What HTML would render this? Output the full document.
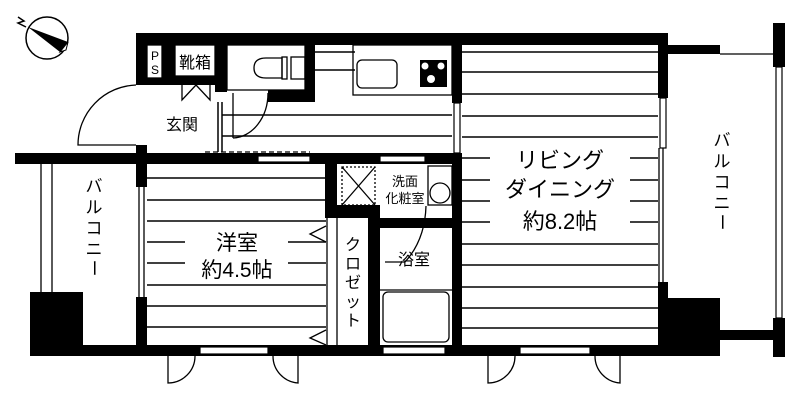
<!DOCTYPE html>
<html><head><meta charset="utf-8"><style>
html,body{margin:0;padding:0;background:#fff;}
svg{display:block;}
text{font-family:"Liberation Sans","Noto Sans CJK JP",sans-serif;fill:#000;}
</style></head><body>
<svg width="800" height="403" viewBox="0 0 800 403" xmlns="http://www.w3.org/2000/svg">
<rect width="800" height="403" fill="#fff"/>
<!-- compass -->
<circle cx="47" cy="38" r="21" fill="none" stroke="#000" stroke-width="1.5"/>
<polygon points="28,27 68,42 60,52" fill="#000"/>
<polygon points="60,52 68,42 66,50" fill="#fff" stroke="#000" stroke-width="1"/>
<path d="M18,17 L24,21 L18,23 L26,27" fill="none" stroke="#000" stroke-width="1.5"/>

<g stroke="#000" stroke-width="1.5">
<line x1="462" y1="52" x2="658" y2="52"/><line x1="462" y1="72" x2="658" y2="72"/>
<line x1="462" y1="94" x2="658" y2="94"/><line x1="462" y1="116" x2="658" y2="116"/>
<line x1="462" y1="137" x2="658" y2="137"/>
<line x1="462" y1="158" x2="490" y2="158"/><line x1="630" y1="158" x2="658" y2="158"/>
<line x1="462" y1="180" x2="490" y2="180"/><line x1="630" y1="180" x2="658" y2="180"/>
<line x1="462" y1="201" x2="490" y2="201"/><line x1="630" y1="201" x2="658" y2="201"/>
<line x1="462" y1="222" x2="490" y2="222"/><line x1="630" y1="222" x2="658" y2="222"/>
<line x1="462" y1="244" x2="658" y2="244"/><line x1="462" y1="265" x2="658" y2="265"/>
<line x1="462" y1="287" x2="658" y2="287"/><line x1="462" y1="308" x2="658" y2="308"/>
<line x1="462" y1="328" x2="658" y2="328"/>
<line x1="147" y1="178" x2="326" y2="178"/><line x1="147" y1="200" x2="326" y2="200"/>
<line x1="147" y1="221" x2="326" y2="221"/>
<line x1="147" y1="242" x2="185" y2="242"/><line x1="288" y1="242" x2="326" y2="242"/>
<line x1="147" y1="263" x2="185" y2="263"/><line x1="288" y1="263" x2="326" y2="263"/>
<line x1="147" y1="285" x2="326" y2="285"/><line x1="147" y1="306" x2="326" y2="306"/>
<line x1="147" y1="327" x2="326" y2="327"/>
<line x1="315" y1="52" x2="355" y2="52"/><line x1="315" y1="70" x2="355" y2="70"/>
<line x1="222" y1="115" x2="452" y2="115"/><line x1="222" y1="136" x2="452" y2="136"/>
<line x1="222" y1="102" x2="222" y2="152"/><line x1="218" y1="102" x2="218" y2="152"/>
</g>

<g fill="#000">
<rect x="136" y="33" width="532" height="12"/>
<rect x="668" y="45" width="52" height="9"/>
<rect x="136" y="33" width="11" height="52"/>
<rect x="136" y="145" width="11" height="42"/>
<rect x="136" y="297" width="11" height="58"/>
<rect x="162" y="45" width="13" height="40"/>
<rect x="147" y="78" width="15" height="7"/>
<rect x="175" y="76" width="40" height="9"/>
<rect x="215" y="45" width="12" height="47"/>
<rect x="305" y="45" width="10" height="57"/>
<rect x="268" y="90" width="47" height="12"/>
<rect x="15" y="153" width="445" height="11"/>
<rect x="452" y="33" width="10" height="70"/>
<rect x="452" y="153" width="10" height="202"/>
<rect x="658" y="33" width="10" height="65"/>
<rect x="658" y="282" width="10" height="74"/>
<rect x="668" y="298" width="52" height="58"/>
<rect x="720" y="330" width="53" height="10"/>
<rect x="773" y="23" width="12" height="44"/>
<rect x="773" y="318" width="12" height="39"/>
<rect x="30" y="345" width="690" height="11"/>
<rect x="30" y="292" width="53" height="60"/>
<rect x="325" y="160" width="12" height="58"/>
<rect x="337" y="205" width="43" height="13"/>
<rect x="368" y="205" width="12" height="145"/>
<rect x="380" y="218" width="72" height="10"/>
<rect x="420" y="60" width="27" height="27"/>
</g>

<g fill="#fff" stroke="#000" stroke-width="1.2">
<rect x="258" y="156" width="52" height="6"/>
<rect x="380" y="156" width="45" height="6"/>
<rect x="454" y="103" width="6" height="50"/>
<rect x="660" y="98" width="6" height="50"/>
<rect x="200" y="347" width="68" height="7"/>
<rect x="520" y="347" width="70" height="7"/>
<rect x="383" y="347" width="62" height="7"/>
<rect x="776" y="67" width="6" height="251"/>
</g>
<g stroke="#000" stroke-width="1.3" fill="none">
<line x1="659" y1="148" x2="659" y2="282"/><line x1="663" y1="148" x2="663" y2="282"/>
<line x1="139" y1="187" x2="139" y2="297"/><line x1="144" y1="187" x2="144" y2="297"/>
<line x1="41" y1="164" x2="41" y2="292"/><line x1="52" y1="164" x2="52" y2="292"/>
<line x1="720" y1="54" x2="773" y2="54"/>
<line x1="327" y1="218" x2="327" y2="345"/><line x1="337" y1="218" x2="337" y2="345"/>
<polyline points="326,226 310,234 326,242"/>
<polyline points="326,330 310,338 326,345"/>
<rect x="147" y="45" width="15" height="33"/>
<rect x="175" y="45" width="40" height="31"/>
<polyline points="182,85 182,100 196,85 210,100 210,85"/>
<rect x="227" y="45" width="78" height="45"/>
<path d="M282,58 L266,58 Q254,58 254,68 Q254,78 266,78 L282,78 Z"/>
<rect x="282" y="57" width="5" height="22"/>
<rect x="291" y="57" width="14" height="22"/>
<rect x="353" y="45" width="99" height="50"/>
<rect x="357" y="60" width="40" height="28" rx="5"/>
<path d="M136,85 A60,60 0 0 0 78,145 L136,145"/>
<line x1="233" y1="93" x2="233" y2="138"/>
<path d="M268,93 A36,45 0 0 1 233,138"/>
<line x1="205" y1="152" x2="310" y2="152" stroke-dasharray="5,3"/>
<rect x="342" y="167" width="33" height="38" stroke-dasharray="2,2"/>
<line x1="342" y1="167" x2="375" y2="205"/><line x1="375" y1="167" x2="342" y2="205"/>
<rect x="428" y="166" width="24" height="39"/>
<circle cx="440" cy="193" r="10"/>
<path d="M426,206 Q425,240 405,262 L385,262"/>
<rect x="383" y="292" width="66" height="50" rx="5"/>
<line x1="380" y1="290" x2="452" y2="290"/>
<path d="M168,356 L168,383 A27,27 0 0 0 195,356"/>
<path d="M298,356 L298,383 A27,27 0 0 1 273,356"/>
<path d="M488,356 L488,383 A27,27 0 0 0 515,356"/>
<path d="M620,356 L620,383 A27,27 0 0 1 595,356"/>
</g>
<g fill="#fff">
<circle cx="425" cy="66" r="3.5"/><circle cx="441" cy="66" r="3.5"/><circle cx="431" cy="79" r="4"/>
</g>

<text x="155" y="60" font-size="12" text-anchor="middle">P</text>
<text x="155" y="74" font-size="12" text-anchor="middle">S</text>
<text x="195" y="68" font-size="16" text-anchor="middle">靴箱</text>
<text x="182" y="130" font-size="16" text-anchor="middle">玄関</text>
<text x="237" y="250" font-size="21" text-anchor="middle">洋室</text>
<text x="237" y="277" font-size="21" text-anchor="middle">約4.5帖</text>
<text x="560" y="168" font-size="22" text-anchor="middle">リビング</text>
<text x="560" y="197" font-size="22" text-anchor="middle">ダイニング</text>
<text x="560" y="229" font-size="22" text-anchor="middle">約8.2帖</text>
<text x="405" y="186" font-size="13" text-anchor="middle">洗面</text>
<text x="405" y="203" font-size="13" text-anchor="middle">化粧室</text>
<text x="414" y="265" font-size="16" text-anchor="middle">浴室</text>
<g font-size="16" text-anchor="middle">
<text x="353" y="250">ク</text><text x="353" y="269">ロ</text><text x="353" y="288">ゼ</text><text x="353" y="307">ッ</text><text x="353" y="326">ト</text>
</g>
<g font-size="17" text-anchor="middle">
<text x="94" y="192">バ</text><text x="94" y="213">ル</text><text x="94" y="234">コ</text><text x="94" y="255">ニ</text>
<text x="0" y="0" transform="translate(94,268) rotate(90)" dy="6">ー</text>
<text x="722" y="146">バ</text><text x="722" y="167">ル</text><text x="722" y="188">コ</text><text x="722" y="209">ニ</text>
<text x="0" y="0" transform="translate(722,222) rotate(90)" dy="6">ー</text>
</g>
</svg>
</body></html>
